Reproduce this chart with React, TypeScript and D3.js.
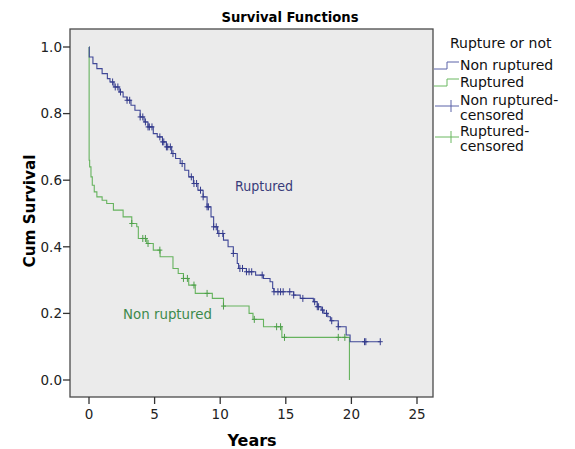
import React from "react";
import * as d3 from "d3";

// Kaplan-Meier step values: [years, cum survival]
const blueTimes = [0, 0.02, 0.3, 0.6, 1.0, 1.4, 1.6, 1.9, 2.3, 2.6, 2.9, 3.2, 3.5, 3.9, 4.2, 4.5, 4.9, 5.2, 5.6, 5.9, 6.3, 6.6, 6.95, 7.3, 7.6, 7.96, 8.3, 8.7, 9.0, 9.3, 9.5, 9.8, 10.25, 10.6, 11.0, 11.3, 11.4, 12.0, 12.7, 13.3, 13.8, 14.0, 14.1, 15.6, 16.1, 17.1, 17.4, 17.7, 17.9, 18.2, 18.4, 19.0, 19.6, 19.9, 22.2];
const blueSurv = [1.0, 0.97, 0.95, 0.935, 0.92, 0.905, 0.895, 0.88, 0.865, 0.85, 0.84, 0.825, 0.81, 0.79, 0.775, 0.76, 0.74, 0.73, 0.715, 0.7, 0.68, 0.665, 0.65, 0.63, 0.61, 0.59, 0.57, 0.55, 0.52, 0.49, 0.46, 0.44, 0.42, 0.4, 0.38, 0.35, 0.335, 0.325, 0.315, 0.305, 0.295, 0.275, 0.265, 0.255, 0.245, 0.235, 0.22, 0.21, 0.2, 0.19, 0.178, 0.16, 0.135, 0.115, 0.115];
const blueCensored = [1.8, 2.0, 2.2, 2.4, 2.9, 3.1, 3.9, 4.1, 4.3, 4.5, 4.6, 4.8, 5.4, 5.6, 5.7, 5.9, 6.0, 6.2, 6.4, 7.1, 7.8, 8.0, 8.2, 8.5, 8.7, 9.0, 9.1, 9.5, 9.7, 9.9, 10.2, 11.0, 11.5, 11.7, 12.0, 12.2, 12.4, 13.2, 14.1, 14.4, 14.6, 14.8, 15.3, 15.6, 16.3, 17.2, 17.4, 17.5, 17.8, 18.1, 18.5, 19.0, 21.0, 21.1, 22.2];

const greenTimes = [0, 0.01, 0.05, 0.15, 0.25, 0.4, 0.6, 1.0, 1.35, 1.86, 2.6, 3.26, 3.64, 3.76, 4.4, 4.9, 5.42, 6.4, 6.8, 7.2, 7.6, 8.1, 9.4, 10.25, 12.2, 12.5, 13.3, 14.7, 19.85];
const greenSurv = [1.0, 0.66, 0.64, 0.61, 0.585, 0.565, 0.55, 0.54, 0.53, 0.51, 0.49, 0.47, 0.46, 0.425, 0.41, 0.39, 0.37, 0.335, 0.32, 0.305, 0.285, 0.26, 0.245, 0.222, 0.2, 0.182, 0.16, 0.128, 0.0];
const greenCensored = [3.26, 4.1, 4.3, 4.5, 5.4, 7.2, 7.5, 8.0, 9.0, 10.25, 12.6, 14.3, 14.6, 14.9, 19.0, 19.5];

const xTicks = [0, 5, 10, 15, 20, 25];
const yTicks = [0, 0.2, 0.4, 0.6, 0.8, 1.0];

const legendLabels = [["Non ruptured"], ["Ruptured"], ["Non ruptured-", "censored"], ["Ruptured-", "censored"]];

const BLUE = "#3f4797";
const BLUE_MARK = "#343b8c";
const GREEN = "#66b35e";
const FONT = "'DejaVu Sans', sans-serif";

function survAt(times: number[], surv: number[], t: number) {
  let v = surv[0];
  for (let i = 0; i < times.length; i++) if (times[i] <= t) v = surv[i];
  return v;
}

export default function App() {
  const frame = { left: 70, top: 29, right: 433, bottom: 397 };
  const x = d3.scaleLinear().domain([0, 25]).range([89, 417]);
  const y = d3.scaleLinear().domain([0, 1]).range([380, 47]);

  const stepPath = (times: number[], surv: number[]) =>
    d3
      .line<number>()
      .x((t) => x(t))
      .y((_, i) => y(surv[i]))
      .curve(d3.curveStepAfter)(times) || "";

  // censored cases drawn as small "+" sitting on the curve
  const marks = (times: number[], surv: number[], cens: number[], color: string) =>
    cens.map((t, i) => {
      const cx = x(t);
      const cy = y(survAt(times, surv, t));
      return (
        <g key={i} stroke={color} strokeWidth={1}>
          <line x1={cx} x2={cx} y1={cy - 3.5} y2={cy + 3.5} />
          <line x1={cx - 2.5} x2={cx + 2.5} y1={cy} y2={cy} />
        </g>
      );
    });

  return (
    <svg width={575} height={449} style={{ position: "absolute", left: 0, top: 0, fontFamily: FONT }}>
      <rect x={0} y={0} width={575} height={449} fill="#fff" />
      <text x={290} y={22} textAnchor="middle" fontWeight="bold" fontSize={14} textLength={137} lengthAdjust="spacingAndGlyphs">
        Survival Functions
      </text>
      <rect
        x={frame.left}
        y={frame.top}
        width={frame.right - frame.left}
        height={frame.bottom - frame.top}
        fill="#ebebeb"
        stroke="#4a4a4a"
        strokeWidth={1.3}
      />
      {yTicks.map((v) => (
        <g key={v}>
          <line x1={frame.left - 7} x2={frame.left} y1={y(v)} y2={y(v)} stroke="#333" strokeWidth={1.3} />
          <text x={frame.left - 8} y={y(v)} dy="0.35em" textAnchor="end" fontSize={13.5} fill="#222">
            {v.toFixed(1)}
          </text>
        </g>
      ))}
      {xTicks.map((v) => (
        <g key={v}>
          <line x1={x(v)} x2={x(v)} y1={frame.bottom} y2={frame.bottom + 7} stroke="#333" strokeWidth={1.3} />
          <text x={x(v)} y={419} textAnchor="middle" fontSize={13.5} fill="#222">
            {v}
          </text>
        </g>
      ))}
      <text x={252} y={446} textAnchor="middle" fontWeight="bold" fontSize={16}>
        Years
      </text>
      <text
        transform={`translate(35,211) rotate(-90)`}
        textAnchor="middle"
        fontWeight="bold"
        fontSize={16.5}
        textLength={113}
        lengthAdjust="spacingAndGlyphs"
      >
        Cum Survival
      </text>

      <path d={stepPath(greenTimes, greenSurv)} fill="none" stroke={GREEN} strokeWidth={1.1} />
      <path d={stepPath(blueTimes, blueSurv)} fill="none" stroke={BLUE} strokeWidth={1.1} />
      {marks(greenTimes, greenSurv, greenCensored, "#4e9f4a")}
      {marks(blueTimes, blueSurv, blueCensored, BLUE_MARK)}

      <text x={235} y={191} fontSize={14} fill="#383c7a" textLength={58} lengthAdjust="spacingAndGlyphs">
        Ruptured
      </text>
      <text x={123} y={319} fontSize={14} fill="#3d8a4b" textLength={89} lengthAdjust="spacingAndGlyphs">
        Non ruptured
      </text>

      {/* legend */}
      <text x={450} y={48} fontSize={14} fill="#111">
        Rupture or not
      </text>
      {[
        { y0: 69, y1: 62, c: "#5a62a8" },
        { y0: 86, y1: 79, c: "#6bb861" },
      ].map((s, i) => (
        <path key={i} d={`M434,${s.y0}H447V${s.y1}H459`} fill="none" stroke={s.c} strokeWidth={1} />
      ))}
      {[
        { cy: 106, c: "#5a62a8" },
        { cy: 137, c: "#6bb861" },
      ].map((s, i) => (
        <g key={i} stroke={s.c} strokeWidth={1}>
          <line x1={435} x2={459} y1={s.cy} y2={s.cy} />
          <line x1={451} x2={451} y1={s.cy - 6} y2={s.cy + 6} />
        </g>
      ))}
      {legendLabels.map((lines, i) => {
        const tops = [70, 87, 105, 136];
        return (
          <text key={i} x={460} y={tops[i]} fontSize={14} fill="#111">
            {lines.map((l, j) => (
              <tspan key={j} x={460} dy={j === 0 ? 0 : 14.5}>
                {l}
              </tspan>
            ))}
          </text>
        );
      })}
    </svg>
  );
}
